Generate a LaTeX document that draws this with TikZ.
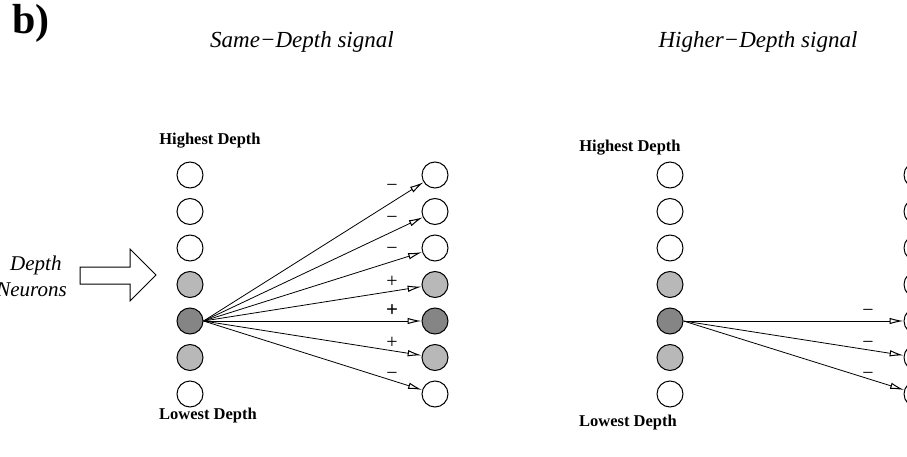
\documentclass[tikz,border=0pt]{standalone}
\usepackage{fontspec}
\setmainfont{Liberation Serif}
\usetikzlibrary{arrows.meta}
\begin{document}
\begin{tikzpicture}[x=1pt,y=-1pt,
  neuron/.style={circle,draw,line width=1pt,minimum size=26pt,inner sep=0pt},
  lite/.style={neuron,fill=black!28},
  dark/.style={neuron,fill=black!48},
  conn/.style={line width=0.8pt,-{Latex[open,length=14pt,width=6.5pt,line width=1pt]}},
  sgn/.style={font=\fontsize{20}{20}\selectfont,inner sep=0pt},
  lab/.style={font=\fontsize{16.5}{18}\selectfont\bfseries,inner sep=0pt},
  ttl/.style={font=\fontsize{23}{26}\selectfont\itshape,inner sep=0pt}]
\useasboundingbox (0,0) rectangle (907,457);
\node[font=\fontsize{42}{44}\selectfont\bfseries,anchor=north west,inner sep=0pt] (b) at (12,4) {b)};
\node[ttl] (t1) at (302,42) {Same−Depth signal};
\node[ttl] (t2) at (758,42) {Higher−Depth signal};
% left panel
\node[lab] (hd1) at (210,141) {Highest Depth};
\node[lab] (ld1) at (208,416) {Lowest Depth};
\foreach \i/\y/\s in {1/175/neuron,2/211.5/neuron,3/248/neuron,4/284.5/lite,5/321/dark,6/357.5/lite,7/394/neuron}{
  \node[\s] (L\i) at (190,\y) {};
  \node[\s] (R\i) at (435,\y) {};
  \node[\s] (M\i) at (670,\y) {};
}
\foreach \i/\y in {1/175,2/211.5,3/248,4/284.5,5/321,6/357.5,7/394}{
  \node[neuron] (N\i) at (917,\y) {};
}
\foreach \i in {1,...,7}{ \draw[conn] (L5.east) -- (R\i); }
\node[sgn] (s1) at (392,188) {−};
\node[sgn] (s2) at (392,220) {−};
\node[sgn] (s3) at (392,251) {−};
\node[sgn] (s4) at (392,282) {+};
\node[sgn,font=\fontsize{21}{21}\selectfont\bfseries] (s5) at (392,311) {+};
\node[sgn] (s6) at (392,343) {+};
\node[sgn] (s7) at (392,376) {−};
% depth neurons
\node[font=\fontsize{21}{22}\selectfont\itshape,anchor=base west,inner sep=0pt] (dn1) at (10,270) {Depth};
\node[font=\fontsize{21}{22}\selectfont\itshape,anchor=base east,inner sep=0pt] (dn2) at (67,296) {Neurons};
\draw[line width=1pt] (80,267) -- (130,267) -- (130,249) -- (156,275) -- (130,301) -- (130,284) -- (80,284) -- cycle;
% right panel
\node[lab] (hd2) at (630,148) {Highest Depth};
\node[lab] (ld2) at (628,423) {Lowest Depth};
\foreach \i in {5,6,7}{ \draw[conn] (M5.east) -- (N\i); }
\node[sgn] (u1) at (868,313) {−};
\node[sgn] (u2) at (868,345) {−};
\node[sgn] (u3) at (868,376) {−};
\end{tikzpicture}
\end{document}
